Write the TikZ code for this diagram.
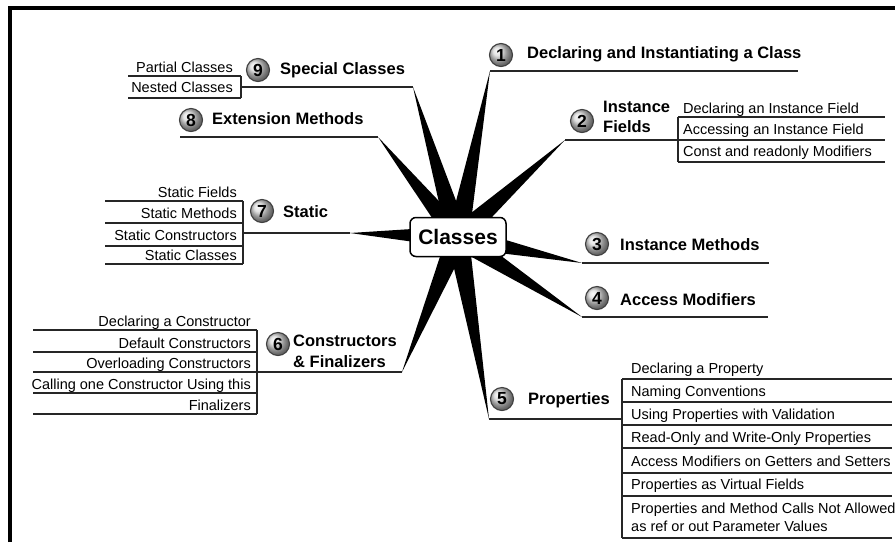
\documentclass[tikz,border=0pt]{standalone}
\usepackage{fontspec}
\setmainfont{Liberation Sans}
\usetikzlibrary{calc}
\begin{document}
\begin{tikzpicture}[x=1pt,y=-1pt,
  ln/.style={line width=1.2pt, black!85},
  frame/.style={line width=4pt},
  head/.style={font=\fontsize{16.5}{19}\selectfont\bfseries, inner sep=0pt},
  sub/.style={font=\fontsize{14.5}{17}\selectfont, inner sep=0pt},
  num/.style={circle, draw=black!75, line width=1.1pt, shading=ball, ball color=gray!30, minimum size=23pt, inner sep=0pt, font=\fontsize{17.5}{17.5}\selectfont\bfseries},
  rootbox/.style={draw, line width=1.5pt, rounded corners=6pt, fill=white, minimum width=96pt, minimum height=39pt, inner sep=0pt, font=\fontsize{21}{21}\selectfont\bfseries}]
\useasboundingbox (0,0) rectangle (895,542);
\fill[white] (0,0) rectangle (895,542);
\draw[frame] (10,542) -- (10,8) -- (895,8);

% centre and spike tips
\coordinate (c) at (458,237);
\coordinate (t1) at (490,71);
\coordinate (t2) at (565,140);
\coordinate (t3) at (582,263);
\coordinate (t4) at (582,317);
\coordinate (t5) at (489,419);
\coordinate (t6) at (402,372);
\coordinate (t7) at (350,233);
\coordinate (t8) at (378,137);
\coordinate (t9) at (413,87);
\foreach \t in {t1,t2,t3,t4,t5,t6,t7,t8,t9}{
  \fill ($(c)!11pt!90:(\t)$) -- (\t) -- ($(c)!11pt!-90:(\t)$) -- cycle;
}
\node[rootbox] (root) at (c) {Classes};

% 1
\coordinate (e1) at (798,71);
\draw[ln] (t1) -- (e1);
\node[num] (n1) at (501,55) {1};
\node[head, anchor=base west] (h1) at (527,58) {Declaring and Instantiating a Class};

% 2
\node[num] (n2) at (582,121) {2};
\node[head, anchor=base west] (h2a) at (603,112) {Instance};
\node[head, anchor=base west] (h2b) at (603,132) {Fields};
\coordinate (e2) at (885,140);
\draw[ln] (t2) -- (e2);
\draw[ln] (678,117) -- (885,117);
\draw[ln] (678,162) -- (885,162);
\draw[ln] (678,117) -- (678,162);
\node[sub, anchor=base west] (s21) at (683,113) {Declaring an Instance Field};
\node[sub, anchor=base west] (s22) at (683,134) {Accessing an Instance Field};
\node[sub, anchor=base west] (s23) at (683,156) {Const and readonly Modifiers};

% 3
\coordinate (e3) at (769,263);
\draw[ln] (t3) -- (e3);
\node[num] (n3) at (597,244) {3};
\node[head, anchor=base west] (h3) at (620,250) {Instance Methods};

% 4
\coordinate (e4) at (768,317);
\draw[ln] (t4) -- (e4);
\node[num] (n4) at (597,298) {4};
\node[head, anchor=base west] (h4) at (620,305) {Access Modifiers};

% 5
\coordinate (e5) at (622,419);
\draw[ln] (t5) -- (e5);
\node[num] (n5) at (502,399) {5};
\node[head, anchor=base west] (h5) at (528,404) {Properties};
\draw[ln] (622,379) -- (622,538);
\foreach \yy in {379,402,425,448,473,496,538}{\draw[ln] (622,\yy) -- (892,\yy);}
\node[sub, anchor=base west] (s51) at (631,373.5) {Declaring a Property};
\node[sub, anchor=base west] (s52) at (631,396.5) {Naming Conventions};
\node[sub, anchor=base west] (s53) at (631,419) {Using Properties with Validation};
\node[sub, anchor=base west] (s54) at (631,442) {Read-Only and Write-Only Properties};
\node[sub, anchor=base west] (s55) at (631,466) {Access Modifiers on Getters and Setters};
\node[sub, anchor=base west] (s56) at (631,489.5) {Properties as Virtual Fields};
\node[sub, anchor=base west] (s57a) at (631,513.5) {Properties and Method Calls Not Allowed};
\node[sub, anchor=base west] (s57b) at (631,531) {as ref or out Parameter Values};

% 6
\coordinate (e6) at (257,372);
\draw[ln] (t6) -- (e6);
\node[num] (n6) at (278,344) {6};
\node[head, anchor=base west] (h6a) at (293,346) {Constructors};
\node[head, anchor=base west] (h6b) at (293,367) {\& Finalizers};
\draw[ln] (257,330) -- (257,414);
\foreach \yy in {330,352,372,393,414}{\draw[ln] (33,\yy) -- (257,\yy);}
\node[sub, anchor=base east] (s61) at (251,326) {Declaring a Constructor};
\node[sub, anchor=base east] (s62) at (251,348) {Default Constructors};
\node[sub, anchor=base east] (s63) at (251,368.5) {Overloading Constructors};
\node[sub, anchor=base east] (s64) at (251,389) {Calling one Constructor Using this};
\node[sub, anchor=base east] (s65) at (251,410.5) {Finalizers};

% 7
\coordinate (e7) at (243,233);
\draw[ln] (t7) -- (e7);
\node[num] (n7) at (262,211) {7};
\node[head, anchor=base west] (h7) at (283,217) {Static};
\draw[ln] (243,201) -- (243,264);
\foreach \yy in {201,223,246,264}{\draw[ln] (105,\yy) -- (243,\yy);}
\node[sub, anchor=base east] (s71) at (237,197) {Static Fields};
\node[sub, anchor=base east] (s72) at (237,218) {Static Methods};
\node[sub, anchor=base east] (s73) at (237,240) {Static Constructors};
\node[sub, anchor=base east] (s74) at (237,260) {Static Classes};

% 8
\coordinate (e8) at (180,137);
\draw[ln] (t8) -- (e8);
\node[num] (n8) at (191,120) {8};
\node[head, anchor=base west] (h8) at (212,124) {Extension Methods};

% 9
\coordinate (e9) at (241,87);
\draw[ln] (t9) -- (e9);
\node[num] (n9) at (258,70) {9};
\node[head, anchor=base west] (h9) at (280,74) {Special Classes};
\draw[ln] (241,76) -- (241,98);
\draw[ln] (128,76) -- (241,76);
\draw[ln] (128,98) -- (241,98);
\node[sub, anchor=base east] (s91) at (233,72) {Partial Classes};
\node[sub, anchor=base east] (s92) at (233,92) {Nested Classes};
\end{tikzpicture}
\end{document}
